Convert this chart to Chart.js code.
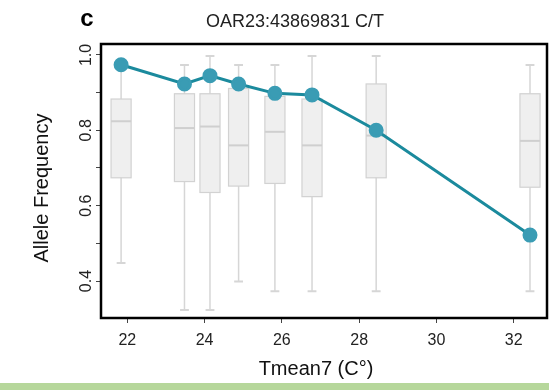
<!DOCTYPE html>
<html>
<head>
<meta charset="utf-8">
<script src="https://cdn.jsdelivr.net/npm/chart.js@4"></script>
<style>
  html, body { margin: 0; padding: 0; background: #fff; }
  #wrap { position: relative; width: 549px; height: 390px; }
  #band { position: absolute; left: 0; bottom: 0; width: 549px; height: 7px; background: #b6d79b; }
</style>
</head>
<body>
<div id="wrap">
  <canvas id="chart" width="549" height="390"></canvas>
  <div id="band"></div>
</div>
<script>
// Température moyenne (x) de chaque groupe
const temps = [21.84, 23.48, 24.14, 24.88, 25.82, 26.78, 28.44, 32.42];
// Fréquence allélique moyenne (ligne)
const freq = [0.974, 0.923, 0.945, 0.923, 0.898, 0.894, 0.80, 0.522];
// Boîtes à moustaches
const whiskerLow = [0.448, 0.323, 0.323, 0.399, 0.373, 0.373, 0.373, 0.373];
const q1 = [0.674, 0.664, 0.635, 0.652, 0.659, 0.624, 0.674, 0.649];
const median = [0.824, 0.806, 0.810, 0.760, 0.796, 0.760, 0.786, 0.772];
const q3 = [0.883, 0.897, 0.897, 0.911, 0.890, 0.883, 0.923, 0.897];
const whiskerHigh = [0.974, 0.973, 0.997, 0.973, 0.973, 0.997, 0.997, 0.973];
// Graduations
const xTicks = [22, 24, 26, 28, 30, 32];
const yTicks = [0.4, 0.5, 0.6, 0.7, 0.8, 0.9, 1.0];
const yLabels = ['0.4', '', '0.6', '', '0.8', '', '1.0'];

const BOX_WIDTH = 0.52;   // en degrés
const FONT = '"Liberation Sans", Arial, sans-serif';

// Dessine les boîtes avant la ligne
const boxPlugin = {
    id: 'boxes',
    beforeDatasetsDraw(chart) {
        const ctx = chart.ctx;
        const x = chart.scales.x;
        const y = chart.scales.y;
        ctx.save();
        for (let i = 0; i < temps.length; i++) {
            const cx = x.getPixelForValue(temps[i]);
            const left = x.getPixelForValue(temps[i] - BOX_WIDTH / 2);
            const right = x.getPixelForValue(temps[i] + BOX_WIDTH / 2);
            const capHalf = (right - left) * 0.22;

            // moustaches
            ctx.strokeStyle = '#d6d6d6';
            ctx.lineWidth = 1.5;
            ctx.beginPath();
            ctx.moveTo(cx, y.getPixelForValue(whiskerLow[i]));
            ctx.lineTo(cx, y.getPixelForValue(whiskerHigh[i]));
            ctx.stroke();
            ctx.lineWidth = 2;
            ctx.beginPath();
            ctx.moveTo(cx - capHalf, y.getPixelForValue(whiskerLow[i]));
            ctx.lineTo(cx + capHalf, y.getPixelForValue(whiskerLow[i]));
            ctx.moveTo(cx - capHalf, y.getPixelForValue(whiskerHigh[i]));
            ctx.lineTo(cx + capHalf, y.getPixelForValue(whiskerHigh[i]));
            ctx.stroke();

            // boîte
            const top = y.getPixelForValue(q3[i]);
            const bottom = y.getPixelForValue(q1[i]);
            ctx.fillStyle = '#efefef';
            ctx.fillRect(left, top, right - left, bottom - top);
            ctx.strokeStyle = '#d2d2d2';
            ctx.lineWidth = 1.2;
            ctx.strokeRect(left, top, right - left, bottom - top);

            // médiane
            const my = y.getPixelForValue(median[i]);
            ctx.strokeStyle = '#cfcfcf';
            ctx.lineWidth = 2;
            ctx.beginPath();
            ctx.moveTo(left, my);
            ctx.lineTo(right, my);
            ctx.stroke();
        }
        ctx.restore();
    },
    afterDraw(chart) {
        const ctx = chart.ctx;
        const area = chart.chartArea;
        const y = chart.scales.y;
        ctx.save();

        // cadre noir
        ctx.strokeStyle = '#000';
        ctx.lineWidth = 2.5;
        ctx.strokeRect(area.left, area.top, area.right - area.left, area.bottom - area.top);

        // graduations y (texte vertical, style R)
        ctx.fillStyle = '#222';
        ctx.font = '16px ' + FONT;
        ctx.textAlign = 'center';
        ctx.textBaseline = 'middle';
        yTicks.forEach((v, i) => {
            if (!yLabels[i]) return;
            const py = y.getPixelForValue(v);
            ctx.save();
            ctx.translate(87, py);
            ctx.rotate(-Math.PI / 2);
            ctx.fillText(yLabels[i], 0, 0);
            ctx.restore();
        });

        // titres
        ctx.fillStyle = '#111';
        ctx.font = '20px ' + FONT;
        ctx.save();
        ctx.translate(42, 188);
        ctx.rotate(-Math.PI / 2);
        ctx.fillText('Allele Frequency', 0, 0);
        ctx.restore();
        ctx.fillText('Tmean7 (C\u00B0)', 316, 369);

        ctx.fillStyle = '#222';
        ctx.font = '18px ' + FONT;
        ctx.fillText('OAR23:43869831 C/T', 295, 22);

        ctx.fillStyle = '#000';
        ctx.font = 'bold 24px ' + FONT;
        ctx.fillText('c', 87, 19);
        ctx.restore();
    }
};

new Chart(document.getElementById('chart'), {
    type: 'line',
    data: {
        datasets: [{
            label: 'Allele Frequency',
            data: temps.map((t, i) => ({ x: t, y: freq[i] })),
            borderColor: '#1b8a9d',
            borderWidth: 3,
            backgroundColor: '#3a9cb4',
            pointBackgroundColor: '#3a9cb4',
            pointBorderColor: '#3a9cb4',
            pointRadius: 6,
            tension: 0,
            fill: false
        }]
    },
    options: {
        responsive: false,
        animation: false,
        layout: {
            autoPadding: false,
            padding: { top: 44, right: 2, left: 0, bottom: 0 }
        },
        plugins: {
            legend: { display: false },
            tooltip: { enabled: false }
        },
        scales: {
            x: {
                type: 'linear',
                min: 21.32,
                max: 32.86,
                afterBuildTicks: (scale) => {
                    scale.ticks = xTicks.map(v => ({ value: v }));
                },
                afterFit: (scale) => {
                    scale.height = 72;
                    scale.paddingLeft = 0;
                    scale.paddingRight = 0;
                },
                ticks: {
                    color: '#222',
                    font: { family: FONT, size: 16 },
                    padding: 8,
                    maxRotation: 0
                },
                grid: {
                    drawOnChartArea: false,
                    drawTicks: true,
                    tickLength: 5,
                    color: '#444',
                    lineWidth: 1
                },
                border: { display: false }
            },
            y: {
                type: 'linear',
                min: 0.302,
                max: 1.029,
                afterBuildTicks: (scale) => {
                    scale.ticks = yTicks.map(v => ({ value: v }));
                },
                afterFit: (scale) => {
                    scale.width = 101;
                    scale.paddingTop = 0;
                    scale.paddingBottom = 0;
                },
                ticks: {
                    callback: () => ''
                },
                grid: {
                    drawOnChartArea: false,
                    drawTicks: true,
                    tickLength: 5,
                    color: '#444',
                    lineWidth: 1
                },
                border: { display: false }
            }
        }
    },
    plugins: [boxPlugin]
});
</script>
</body>
</html>
